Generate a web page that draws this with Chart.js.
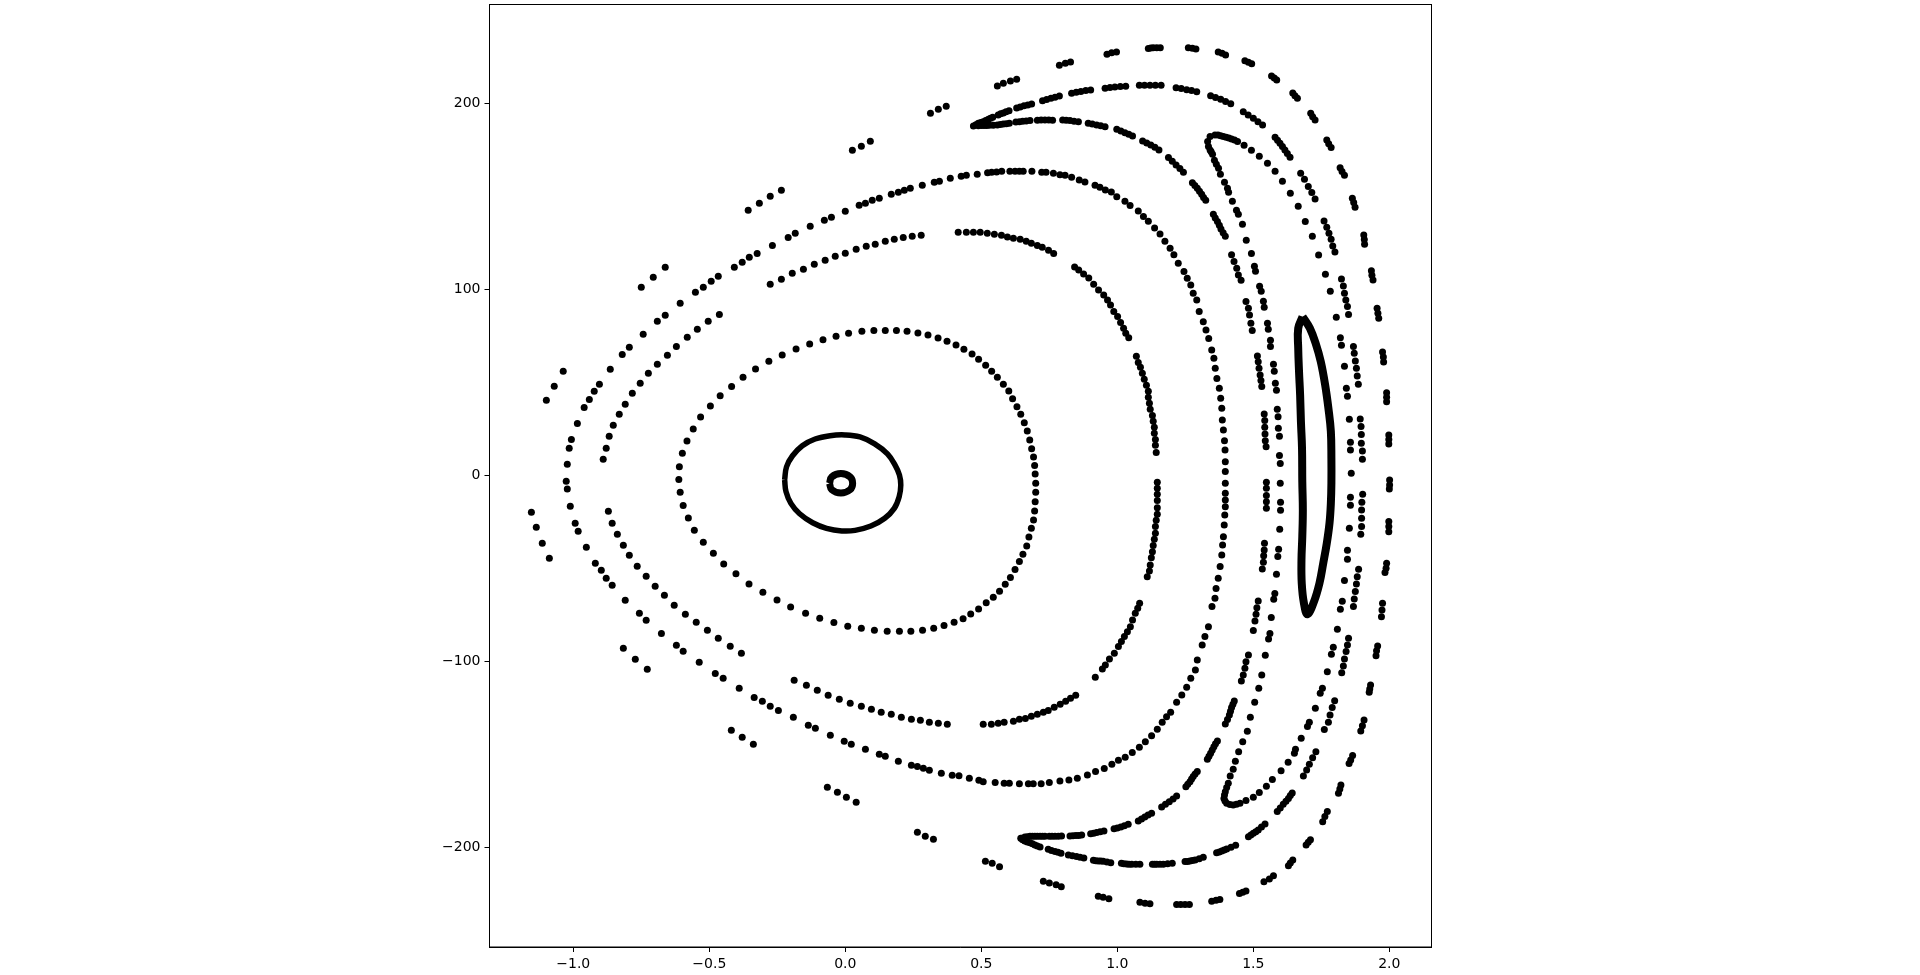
<!DOCTYPE html>
<html>
<head>
<meta charset="utf-8">
<title>Poincare section</title>
<style>
  html, body { margin: 0; padding: 0; background: #fff; }
  canvas { display: block; }
</style>
<script src="https://cdn.jsdelivr.net/npm/chart.js@4"></script>
</head>
<body>
<canvas id="chart" width="1920" height="975"></canvas>
<script>
// tick labels
const xTicks = [-1.0, -0.5, 0.0, 0.5, 1.0, 1.5, 2.0];
const yTicks = [-200, -100, 0, 100, 200];

// solid loops as [theta, p]
const smallRing = [[-0.058,-4.2],[-0.050,-0.8],[-0.016,1.0],[0.018,-0.8],[0.027,-4.2],[0.018,-7.6],[-0.016,-9.4],[-0.050,-7.6],[-0.058,-4.2]];
const bigRing = [[-0.223,-2.4],[-0.216,4.7],[-0.194,10.6],[-0.158,16.0],[-0.111,19.6],[-0.056,21.4],[-0.001,21.8],[0.054,20.7],[0.108,17.0],[0.155,11.6],[0.183,5.6],[0.199,0.3],[0.204,-5.1],[0.198,-11.4],[0.180,-17.7],[0.145,-23.0],[0.094,-27.2],[0.036,-29.5],[-0.013,-29.8],[-0.069,-28.4],[-0.120,-25.4],[-0.168,-20.6],[-0.200,-15.0],[-0.218,-8.7],[-0.223,-2.4]];
const island = [[1.681,85.4],[1.665,79.1],[1.665,68.4],[1.668,55.8],[1.672,43.3],[1.675,28.9],[1.679,14.6],[1.680,-3.3],[1.682,-18.5],[1.680,-32.9],[1.677,-45.4],[1.678,-58.0],[1.686,-68.7],[1.699,-74.6],[1.723,-67.8],[1.743,-58.0],[1.757,-47.2],[1.770,-36.5],[1.780,-25.7],[1.785,-15.0],[1.787,-4.2],[1.787,9.2],[1.785,23.6],[1.776,36.1],[1.764,48.7],[1.748,61.2],[1.731,70.2],[1.708,79.1],[1.681,85.4]];

// third closed orbit
const orbit1 = [[-0.612,-2.1],[-0.610,4.7],[-0.599,11.9],[-0.582,18.5],[-0.559,25.0],[-0.532,31.5],[-0.496,37.4],[-0.460,42.9],[-0.418,47.8],[-0.376,52.8],[-0.330,57.3],[-0.281,61.4],[-0.232,64.8],[-0.181,68.0],[-0.131,70.7],[-0.082,73.0],[-0.034,74.8],[0.012,76.4],[0.061,77.5],[0.105,78.0],[0.147,78.0],[0.188,78.0],[0.227,77.5],[0.267,76.6],[0.304,75.5],[0.341,73.9],[0.374,72.1],[0.407,70.2],[0.436,67.8],[0.466,65.3],[0.490,62.5],
  [0.516,59.2],[0.538,56.0],[0.559,52.8],[0.581,49.0],[0.601,45.4],[0.615,41.3],[0.631,37.0],[0.645,32.9],[0.658,28.4],[0.669,23.9],[0.678,19.1],[0.685,14.4],[0.692,9.9],[0.696,5.3],[0.698,0.8],[0.700,-4.2],
  [0.700,-9.0],[0.698,-14.1],[0.696,-19.1],[0.692,-23.9],[0.684,-28.4],[0.675,-33.1],[0.667,-37.9],[0.653,-42.4],[0.640,-46.3],[0.624,-50.6],[0.607,-54.9],[0.588,-58.5],[0.567,-62.3],[0.544,-65.5],[0.518,-68.4],[0.490,-71.8],[0.461,-74.5],[0.433,-77.0],
  [0.400,-78.9],[0.363,-80.6],[0.325,-82.2],[0.284,-83.2],[0.241,-83.8],[0.199,-83.8],[0.154,-83.8],[0.107,-83.2],[0.059,-82.2],[0.009,-81.1],[-0.042,-79.1],[-0.094,-76.8],[-0.146,-74.1],[-0.201,-70.7],[-0.251,-66.9],[-0.303,-62.8],[-0.354,-58.3],[-0.402,-52.9],[-0.447,-47.6],[-0.485,-41.8],[-0.522,-35.9],[-0.555,-29.5],[-0.577,-22.9],[-0.596,-16.2],[-0.607,-9.0]];

// broken orbit with ten arcs
const orbit2 = [[-0.890,8.7],[-0.879,14.6],[-0.868,21.1],[-0.853,27.0],[-0.831,32.9],[-0.809,38.3],[-0.783,44.2],[-0.754,49.6],[-0.724,54.9],[-0.691,59.8],[-0.654,64.6],[-0.621,69.4],[-0.581,74.3],[-0.544,78.6],[-0.504,82.9],[-0.463,86.6],
  [-0.276,102.8],[-0.235,105.5],[-0.195,108.7],[-0.154,110.8],[-0.114,113.5],[-0.074,115.7],[-0.037,117.8],[0.000,119.5],[0.040,121.6],[0.077,123.2],[0.110,124.3],[0.147,125.9],[0.180,127.0],[0.213,128.0],[0.246,128.6],[0.279,129.1],
  [0.415,130.7],[0.445,130.7],[0.471,130.7],[0.496,130.7],[0.522,130.2],[0.548,129.7],[0.574,129.1],[0.596,128.2],[0.618,127.5],[0.643,127.0],[0.665,125.9],[0.684,124.8],[0.706,123.7],[0.724,122.7],[0.747,121.1],[0.766,119.4],
  [0.843,112.1],[0.858,110.5],[0.876,108.3],[0.895,106.2],[0.913,102.8],[0.931,99.7],[0.950,97.0],[0.964,94.3],[0.975,91.6],[0.987,88.1],[1.001,85.4],[1.012,82.2],[1.023,79.1],[1.031,76.4],[1.042,74.1],
  [1.070,64.1],[1.077,60.8],[1.085,58.2],[1.092,54.9],[1.099,51.7],[1.107,48.5],[1.114,45.3],[1.114,42.0],[1.118,38.8],[1.121,35.6],[1.129,32.3],[1.132,29.1],[1.136,25.9],[1.136,22.7],[1.140,19.4],[1.140,16.2],[1.143,12.4],
  [1.147,-3.7],[1.147,-6.9],[1.147,-10.1],[1.147,-13.4],[1.147,-17.3],[1.147,-20.9],[1.143,-24.1],[1.140,-27.5],[1.140,-31.1],[1.136,-34.3],[1.132,-37.7],[1.129,-41.0],[1.125,-44.2],[1.121,-48.1],[1.118,-51.3],[1.110,-54.4],
  [1.082,-68.7],[1.075,-71.4],[1.066,-74.1],[1.056,-77.7],[1.048,-81.3],[1.037,-84.0],[1.026,-86.6],[1.015,-89.3],[1.004,-92.0],[0.989,-95.6],[0.971,-98.7],[0.956,-101.9],[0.945,-104.0],[0.919,-108.5],
  [0.847,-118.2],[0.828,-119.8],[0.810,-121.4],[0.790,-123.0],[0.768,-124.6],[0.746,-126.3],[0.728,-127.3],[0.706,-128.4],[0.684,-129.5],[0.662,-130.6],[0.640,-131.1],[0.618,-132.2],[0.584,-132.7],[0.562,-133.2],[0.537,-133.8],[0.507,-133.8],
  [-0.188,-110.1],[-0.143,-112.8],[-0.103,-115.5],[-0.063,-118.2],[-0.022,-120.3],[0.018,-122.5],[0.059,-124.1],[0.096,-125.7],[0.132,-127.3],[0.169,-128.4],[0.206,-130.0],[0.243,-131.1],[0.276,-131.6],[0.309,-132.7],[0.342,-133.2],[0.375,-133.8],
  [-0.871,-19.3],[-0.857,-25.7],[-0.838,-31.6],[-0.816,-37.5],[-0.794,-42.9],[-0.765,-48.8],[-0.732,-54.2],[-0.699,-59.6],[-0.665,-64.4],[-0.629,-69.8],[-0.588,-74.6],[-0.548,-78.9],[-0.507,-83.2],[-0.467,-87.5],[-0.423,-91.8],[-0.382,-95.6]];

// last closed orbit before the chain of islands
const orbit3 = [[-1.022,-7.3],[-1.026,-3.1],[-1.022,6.0],[-1.015,14.6],[-1.007,19.4],[-0.985,28.0],[-0.960,36.6],[-0.941,40.9],[-0.923,45.3],[-0.904,49.0],[-0.864,57.1],[-0.820,65.1],[-0.794,68.9],[-0.743,75.9],[-0.691,82.9],[-0.662,86.1],[-0.607,92.6],[-0.551,98.5],[-0.522,101.2],[-0.493,104.4],[-0.467,107.1],[-0.408,111.9],[-0.379,114.6],[-0.353,117.3],[-0.324,119.4],[-0.268,123.7],[-0.210,128.0],[-0.184,130.2],[-0.129,134.0],[-0.077,137.2],[-0.051,138.8],[0.000,142.0],[0.051,145.3],[0.074,146.3],[0.099,147.9],[0.125,149.0],[0.169,151.2],[0.195,152.2],[0.217,153.3],[0.239,154.4],[0.283,156.0],[0.327,157.6],[0.346,158.2],[0.386,159.8],[0.426,160.8],[0.445,161.4],[0.485,161.9],
  [0.523,162.8],[0.538,163.0],[0.556,163.2],[0.575,163.5],[0.605,163.5],[0.624,163.5],[0.640,163.5],[0.654,163.5],[0.686,163.5],[0.722,163.0],[0.738,163.0],[0.765,162.5],[0.789,161.7],[0.808,161.4],[0.832,160.3],[0.860,158.9],[0.881,157.8],[0.918,156.0],[0.936,154.9],[0.956,153.5],[0.978,152.4],[0.998,149.9],[1.028,147.4],[1.047,145.2],[1.077,142.2],[1.096,139.2],[1.114,136.7],[1.137,133.1],[1.157,129.8],[1.175,125.9],[1.194,122.1],[1.208,118.6],[1.224,114.1],[1.245,109.6],[1.257,106.0],[1.270,102.4],[1.279,97.9],[1.292,94.4],[1.301,88.1],[1.316,82.7],[1.326,78.2],[1.336,73.7],[1.347,67.5],[1.355,63.0],[1.360,57.6],[1.366,52.2],[1.375,46.9],[1.380,41.5],[1.384,36.1],[1.386,29.8],[1.390,24.5],[1.394,18.7],[1.396,13.7],[1.397,7.4],[1.397,2.1],[1.397,-4.2],
  [1.397,-9.6],[1.397,-13.2],[1.397,-16.8],[1.395,-21.2],[1.393,-26.6],[1.390,-32.9],[1.387,-37.4],[1.384,-42.7],[1.378,-49.0],[1.371,-55.3],[1.363,-60.7],[1.359,-66.0],[1.348,-70.5],[1.335,-81.3],[1.322,-86.6],[1.312,-91.1],[1.294,-99.2],[1.287,-104.6],[1.270,-109.0],[1.255,-113.9],[1.237,-118.0],[1.218,-121.9],[1.196,-127.3],[1.181,-129.7],[1.165,-132.7],[1.147,-136.5],[1.126,-139.9],[1.103,-143.1],[1.081,-146.1],[1.055,-149.0],[1.029,-151.5],[1.004,-153.1],[0.980,-155.3],[0.952,-157.6],[0.920,-159.2],[0.890,-161.0],[0.853,-162.8],[0.822,-163.7],[0.789,-164.2],[0.750,-165.0],[0.720,-165.7],[0.691,-165.7],[0.673,-165.7],[0.640,-165.7],[0.603,-165.5],[0.584,-165.5],[0.551,-165.0],[0.507,-164.6],[0.491,-163.9],[0.456,-162.8],[0.418,-161.4],
  [0.393,-161.2],[0.353,-160.1],[0.309,-158.5],[0.287,-157.4],[0.265,-156.5],[0.243,-155.8],[0.195,-153.7],[0.147,-151.0],[0.125,-149.9],[0.074,-147.2],[0.022,-144.5],[-0.004,-142.9],[-0.055,-139.7],[-0.110,-135.9],[-0.136,-134.3],[-0.191,-130.0],[-0.246,-126.3],[-0.276,-124.1],[-0.305,-121.4],[-0.335,-119.3],[-0.390,-114.4],[-0.449,-109.0],[-0.478,-106.4],[-0.537,-100.4],[-0.596,-94.5],[-0.621,-91.3],[-0.676,-84.9],[-0.732,-77.9],[-0.757,-74.1],[-0.809,-67.1],[-0.857,-59.0],[-0.879,-55.3],[-0.897,-51.0],[-0.919,-47.2],[-0.952,-38.6],[-0.982,-30.0],[-0.993,-25.7],[-1.011,-16.6]];

// outermost dashes and groups
const outerChain = [[-1.099,40.4],[-1.070,47.9],[-1.037,56.0],[-0.750,101.2],[-0.706,106.5],[-0.662,111.9],[-0.357,142.6],[-0.316,146.3],[-0.276,150.1],[-0.235,153.3],[0.026,174.8],[0.059,177.0],[0.092,179.7],[0.313,194.7],[0.342,196.9],[0.371,198.5],
  [0.559,209.4],[0.581,210.8],[0.607,212.1],[0.630,213.0],[0.787,220.5],[0.809,221.6],[0.828,222.3],[0.962,226.4],[0.979,227.2],[0.997,227.7],[1.114,229.5],[1.123,229.8],[1.132,230.0],[1.145,230.0],[1.158,230.0],[1.261,230.0],[1.276,229.7],[1.289,229.3],[1.371,227.7],[1.385,227.0],[1.398,226.1],[1.469,222.9],[1.482,222.1],[1.494,221.4],[1.567,214.8],[1.577,213.7],[1.586,212.6],[1.645,205.6],[1.653,204.2],[1.662,202.8],[1.711,194.7],[1.718,192.9],[1.727,191.1],[1.770,180.4],[1.777,178.4],[1.786,176.3],[1.819,165.5],[1.826,163.4],[1.835,161.4],[1.864,149.0],[1.869,146.7],[1.874,144.2],[1.906,129.3],[1.908,126.8],[1.909,124.3],[1.934,110.1],[1.936,107.6],[1.940,105.1],[1.955,89.9],[1.958,87.2],[1.961,84.5],[1.975,66.4],[1.978,63.7],[1.979,61.0],[1.990,44.5],[1.990,42.0],[1.990,39.7],[1.998,21.8],[1.998,19.4],[1.998,16.9],[2.001,-2.4],[2.001,-5.1],[2.000,-7.3],
  [1.998,-24.8],[1.998,-27.5],[1.998,-30.2],[1.990,-47.2],[1.988,-49.9],[1.984,-52.2],[1.975,-68.7],[1.973,-72.3],[1.971,-75.9],[1.957,-91.7],[1.953,-94.2],[1.951,-96.9],[1.931,-112.6],[1.928,-114.8],[1.926,-116.6],[1.907,-131.4],[1.901,-134.5],[1.895,-137.4],[1.865,-150.6],[1.858,-152.9],[1.852,-154.8],[1.822,-166.4],[1.818,-168.5],[1.813,-170.9],[1.772,-180.7],[1.763,-183.4],[1.755,-186.1],[1.710,-195.8],[1.702,-197.2],[1.694,-198.7],[1.645,-206.7],[1.636,-208.3],[1.629,-209.8],[1.574,-215.2],[1.559,-217.0],[1.539,-218.4],[1.473,-223.4],[1.461,-224.1],[1.449,-224.8],[1.377,-227.9],[1.363,-228.4],[1.347,-228.9],[1.265,-230.6],[1.249,-230.6],[1.233,-230.6],[1.218,-230.6],[1.120,-230.2],[1.102,-230.0],[1.083,-229.5],[0.969,-227.5],[0.948,-226.8],[0.930,-226.2],[0.794,-221.1],[0.775,-220.0],[0.750,-219.1],[0.728,-218.2],[0.567,-210.3],[0.540,-208.5],[0.515,-207.4],
  [0.324,-195.6],[0.294,-194.0],[0.265,-191.8],[0.040,-175.7],[0.004,-173.0],[-0.029,-170.3],[-0.066,-167.6],[-0.338,-144.5],[-0.379,-140.8],[-0.419,-137.0],[-0.728,-104.2],[-0.772,-98.8],[-0.816,-92.9],[-1.088,-44.5],[-1.114,-36.5],[-1.136,-27.9],[-1.154,-19.8]];

// dashed separatrix, outer branch
const dashedOuter = [[0.471,187.9],[0.480,188.6],[0.489,189.3],[0.498,189.8],[0.507,190.2],[0.516,190.9],[0.526,191.5],[0.534,192.0],[0.542,192.6],[0.562,193.8],[0.571,194.4],[0.581,194.9],[0.591,195.5],[0.602,196.1],[0.630,197.6],[0.643,198.1],[0.657,198.7],[0.671,199.2],[0.685,199.7],[0.725,201.4],[0.740,202.1],[0.756,202.8],[0.771,203.4],[0.787,204.0],[0.832,205.5],[0.849,206.0],[0.866,206.4],[0.884,206.9],[0.902,207.3],[0.955,208.2],[0.973,208.6],[0.991,208.9],[1.011,209.1],[1.031,209.2],[1.081,209.8],[1.100,209.8],[1.120,209.8],[1.140,209.8],[1.161,209.8],[1.216,208.5],[1.235,208.0],[1.255,207.4],[1.273,206.9],[1.292,206.3],[1.343,204.2],[1.361,203.2],[1.380,202.2],[1.398,201.1],[1.417,199.9],[1.463,195.6],[1.481,193.8],[1.500,192.0],[1.517,190.2],[1.534,188.4],[1.580,181.8],[1.589,180.2],[1.598,178.6],[1.607,176.8],[1.616,175.0],[1.625,173.1],[1.635,171.1],[1.674,162.5],[1.688,159.2],[1.702,155.3],[1.715,152.1],[1.727,148.7],[1.760,136.8],[1.770,133.4],[1.778,130.2],[1.786,127.0],[1.792,123.4],[1.800,120.2],[1.824,105.6],[1.831,101.9],[1.835,98.0],[1.840,94.4],[1.846,90.8],[1.850,86.6],[1.868,69.3],[1.871,65.7],[1.875,61.6],[1.879,57.6],[1.882,53.5],[1.886,49.0],[1.893,30.4],[1.896,26.3],[1.897,22.0],[1.897,17.3],[1.901,13.2],[1.901,8.7],
  [1.902,-10.1],[1.899,-14.4],[1.898,-18.5],[1.898,-23.0],[1.898,-27.5],[1.895,-31.6],[1.887,-50.4],[1.882,-54.4],[1.879,-58.3],[1.875,-62.4],[1.871,-66.4],[1.868,-70.5],[1.850,-87.5],[1.846,-91.1],[1.841,-94.7],[1.835,-98.7],[1.831,-102.4],[1.825,-106.0],[1.799,-121.1],[1.790,-124.8],[1.782,-128.8],[1.776,-132.7],[1.761,-136.6],[1.730,-148.5],[1.718,-151.7],[1.706,-155.3],[1.696,-158.3],[1.684,-161.6],[1.643,-170.7],[1.636,-172.1],[1.629,-173.6],[1.620,-175.2],[1.610,-176.8],[1.599,-178.8],[1.588,-180.7],[1.543,-187.4],[1.530,-189.0],[1.518,-190.6],[1.509,-191.5],[1.500,-192.4],[1.491,-193.3],[1.482,-194.2],[1.435,-198.8],[1.418,-199.9],[1.402,-200.8],[1.393,-201.4],[1.384,-201.9],[1.375,-202.4],[1.365,-202.8],[1.316,-205.3],[1.301,-206.0],[1.286,-206.7],[1.276,-207.0],[1.267,-207.3],[1.258,-207.5],[1.249,-207.6],[1.202,-208.5],[1.185,-208.8],[1.169,-209.0],[1.157,-209.0],[1.145,-209.0],[1.137,-209.0],[1.129,-209.0],[1.083,-209.0],[1.068,-209.0],[1.053,-209.0],[1.043,-209.0],[1.034,-208.9],[1.024,-208.7],[1.015,-208.5],[0.976,-208.2],[0.962,-207.8],[0.948,-207.4],[0.939,-207.3],[0.930,-207.3],[0.921,-207.1],[0.912,-206.9],[0.877,-205.6],[0.863,-205.2],[0.850,-204.8],[0.835,-204.4],[0.820,-204.0],[0.793,-203.1],[0.782,-202.6],[0.771,-202.2],[0.758,-201.6],[0.746,-201.0],[0.716,-199.7],[0.706,-199.2],[0.697,-198.7],[0.688,-198.0],[0.679,-197.4],[0.669,-197.0],[0.660,-196.5],[0.652,-195.8],[0.645,-195.1]];

// dashed separatrix, inner branch
const dashedInner = [[0.489,188.0],[0.500,188.1],[0.510,188.1],[0.520,188.2],[0.530,188.3],[0.544,188.3],[0.559,188.4],[0.570,188.7],[0.581,189.0],[0.592,189.1],[0.603,189.3],[0.627,190.0],[0.640,190.2],[0.652,190.4],[0.665,190.6],[0.679,190.8],[0.706,191.0],[0.720,191.1],[0.734,191.1],[0.748,191.1],[0.762,191.0],[0.799,191.1],[0.812,191.0],[0.826,190.8],[0.841,190.5],[0.857,190.2],[0.893,189.3],[0.908,188.9],[0.924,188.4],[0.939,188.0],[0.955,187.5],[0.998,186.1],[1.013,185.2],[1.028,184.3],[1.042,183.4],[1.056,182.5],[1.093,179.8],[1.108,178.8],[1.123,177.7],[1.138,176.4],[1.153,175.0],[1.188,170.9],[1.202,168.9],[1.216,166.9],[1.230,165.0],[1.243,163.0],[1.276,157.4],[1.285,155.9],[1.294,154.4],[1.302,152.8],[1.310,151.2],[1.317,149.5],[1.325,147.9],[1.353,140.4],[1.360,138.4],[1.368,136.5],[1.375,134.5],[1.381,132.5],[1.389,130.5],[1.397,128.6],[1.420,118.6],[1.429,115.0],[1.439,111.4],[1.445,107.8],[1.455,104.9],[1.473,93.5],[1.482,89.9],[1.486,86.3],[1.491,81.8],[1.496,77.9],[1.515,64.2],[1.518,61.2],[1.521,57.6],[1.525,54.0],[1.528,51.0],[1.531,47.8],[1.540,33.1],[1.542,29.5],[1.542,25.9],[1.543,22.3],[1.544,18.7],[1.547,15.5],[1.548,-3.7],
  [1.548,-6.9],[1.548,-10.8],[1.548,-14.1],[1.548,-17.6],[1.541,-36.5],[1.540,-40.1],[1.538,-43.1],[1.537,-46.7],[1.533,-50.3],[1.518,-67.5],[1.513,-71.1],[1.510,-74.6],[1.506,-78.2],[1.500,-83.4],[1.482,-96.5],[1.473,-100.1],[1.469,-103.7],[1.463,-107.3],[1.456,-110.5],[1.430,-121.2],[1.425,-123.0],[1.420,-124.8],[1.416,-126.8],[1.412,-128.8],[1.405,-131.2],[1.397,-133.6],[1.368,-142.7],[1.361,-144.2],[1.355,-145.8],[1.349,-147.6],[1.343,-149.4],[1.337,-151.0],[1.331,-152.6],[1.294,-159.2],[1.286,-160.5],[1.279,-161.9],[1.273,-163.2],[1.267,-164.6],[1.259,-166.0],[1.252,-167.3],[1.218,-172.3],[1.205,-173.9],[1.191,-175.4],[1.177,-176.8],[1.163,-178.2],[1.126,-181.6],[1.113,-182.6],[1.101,-183.6],[1.089,-184.7],[1.077,-185.8],[1.040,-187.5],[1.026,-188.3],[1.013,-189.0],[1.000,-189.5],[0.988,-189.9],[0.951,-191.1],[0.937,-191.6],[0.924,-192.0],[0.913,-192.3],[0.902,-192.6],[0.869,-193.3],[0.858,-193.5],[0.848,-193.6],[0.837,-193.7],[0.826,-193.8],[0.795,-193.8],[0.783,-193.9],[0.771,-194.0],[0.760,-194.0],[0.750,-194.0],[0.734,-194.0],[0.725,-194.0],[0.716,-194.0],[0.706,-194.0],[0.697,-194.0],[0.688,-194.0],[0.679,-194.0],[0.669,-194.2],[0.660,-194.4],[0.648,-195.1]];

// crescent island between the branches
const crescent = [[1.335,176.8],[1.332,179.5],[1.341,182.2],[1.359,183.1],[1.370,183.0],[1.380,182.7],[1.390,182.3],[1.400,181.8],[1.410,181.4],[1.420,180.9],[1.431,180.3],[1.442,179.5],[1.466,177.5],[1.493,174.8],[1.522,171.6],[1.552,167.8],[1.580,163.5],[1.607,158.2],[1.636,151.7],[1.665,144.7],[1.691,136.5],[1.717,128.6],[1.740,118.5],[1.765,108.2],[1.783,99.0],[1.805,85.0],[1.820,74.1],[1.824,70.0],[1.835,58.7],[1.842,46.9],[1.846,42.6],[1.853,30.2],[1.857,17.8],[1.857,13.7],[1.860,1.2],
  [1.857,-11.7],[1.857,-16.0],[1.853,-28.4],[1.846,-40.2],[1.846,-45.1],[1.835,-56.4],[1.827,-67.6],[1.820,-71.9],[1.809,-82.7],[1.794,-92.4],[1.787,-96.1],[1.772,-105.5],[1.754,-114.4],[1.746,-117.1],[1.728,-125.2],[1.706,-132.7],[1.699,-135.0],[1.676,-141.3],[1.655,-147.2],[1.651,-149.4],[1.628,-154.2],[1.602,-158.7],[1.570,-163.5],[1.548,-167.1],[1.522,-170.5],[1.500,-173.0],[1.473,-174.8],[1.451,-176.2],[1.438,-176.8],[1.426,-177.1],[1.414,-176.9],[1.402,-176.2],[1.396,-175.0],[1.392,-173.6],[1.394,-171.8],[1.397,-170.0],[1.402,-167.8],[1.408,-165.5],[1.415,-161.6],[1.426,-158.0],[1.434,-153.7],[1.446,-148.5],[1.461,-143.1],[1.478,-137.5],[1.489,-130.0],[1.505,-121.9],[1.520,-114.4],[1.531,-107.3],[1.544,-96.7],[1.556,-87.9],[1.561,-84.9],[1.566,-76.3],[1.575,-66.6],[1.579,-63.4],[1.585,-53.1],[1.590,-43.5],[1.593,-39.7],[1.597,-28.9],[1.600,-18.7],[1.600,-14.4],
  [1.599,-4.2],[1.599,6.5],[1.596,10.8],[1.596,21.1],[1.592,25.4],[1.591,31.6],[1.588,35.6],[1.585,45.8],[1.581,49.6],[1.577,56.0],[1.574,59.8],[1.563,69.4],[1.563,72.7],[1.555,78.6],[1.552,81.8],[1.540,90.4],[1.537,93.6],[1.529,99.0],[1.523,101.7],[1.508,109.8],[1.504,112.5],[1.493,119.4],[1.474,126.4],[1.460,135.0],[1.445,140.4],[1.438,142.6],[1.423,147.4],[1.409,152.2],[1.405,154.4],[1.394,157.6],[1.379,161.9],[1.372,165.1],[1.364,167.3],[1.357,169.4],[1.350,172.7],[1.345,174.0],[1.341,175.0]];

const dotSeries = [orbit1, orbit2, orbit3, outerChain, dashedOuter, dashedInner, crescent];

function toPoints(list) {
  return list.map(function (p) { return { x: p[0], y: p[1] }; });
}

const datasets = dotSeries.map(function (list) {
  return {
    data: toPoints(list),
    showLine: false,
    pointRadius: 3.5,
    pointBorderWidth: 0,
    pointBackgroundColor: "#000"
  };
});

// the solid loops are so dense that they read as a line
[[smallRing, 7], [bigRing, 5.5], [island, 8]].forEach(function (loop) {
  datasets.push({
    data: toPoints(loop[0]),
    showLine: true,
    tension: 0.4,
    borderColor: "#000",
    borderWidth: loop[1],
    pointRadius: 0
  });
});

// frame on all four sides
const frame = {
  id: "frame",
  afterDraw: function (chart) {
    const a = chart.chartArea;
    const ctx = chart.ctx;
    ctx.save();
    ctx.strokeStyle = "#000";
    ctx.lineWidth = 1;
    ctx.strokeRect(a.left, a.top, a.right - a.left, a.bottom - a.top);
    ctx.restore();
  }
};

function minus(text) {
  return String(text).replace("-", "\u2212");
}

function axis(min, max, values, format) {
  return {
    type: "linear",
    min: min,
    max: max,
    afterBuildTicks: function (scale) {
      scale.ticks = values.map(function (v) { return { value: v }; });
    },
    ticks: {
      autoSkip: false,
      maxRotation: 0,
      color: "#000",
      padding: 4,
      font: { family: "DejaVu Sans", size: 14 },
      callback: function (v) { return minus(format(v)); }
    },
    grid: { drawOnChartArea: false, drawTicks: true, tickLength: 5, tickColor: "#000", tickWidth: 1 },
    border: { display: true, color: "#000", width: 1 }
  };
}

// keep the plot box where it is, the end labels must not push it in
const xScale = axis(-1.308, 2.155, xTicks, function (v) { return v.toFixed(1); });
xScale.afterFit = function (scale) {
  scale.height = 28;
  scale.paddingLeft = 0;
  scale.paddingRight = 0;
};
const yScale = axis(-253.5, 253.2, yTicks, function (v) { return v.toFixed(0); });
yScale.afterFit = function (scale) {
  scale.width = 60;
  scale.paddingTop = 0;
  scale.paddingBottom = 0;
};

new Chart(document.getElementById("chart"), {
  type: "scatter",
  data: { datasets: datasets },
  plugins: [frame],
  options: {
    responsive: false,
    animation: false,
    devicePixelRatio: 1,
    layout: { padding: { left: 429.5, right: 488.5, top: 4.5, bottom: 0 } },
    plugins: { legend: { display: false }, tooltip: { enabled: false } },
    scales: { x: xScale, y: yScale }
  }
});
</script>
</body>
</html>
